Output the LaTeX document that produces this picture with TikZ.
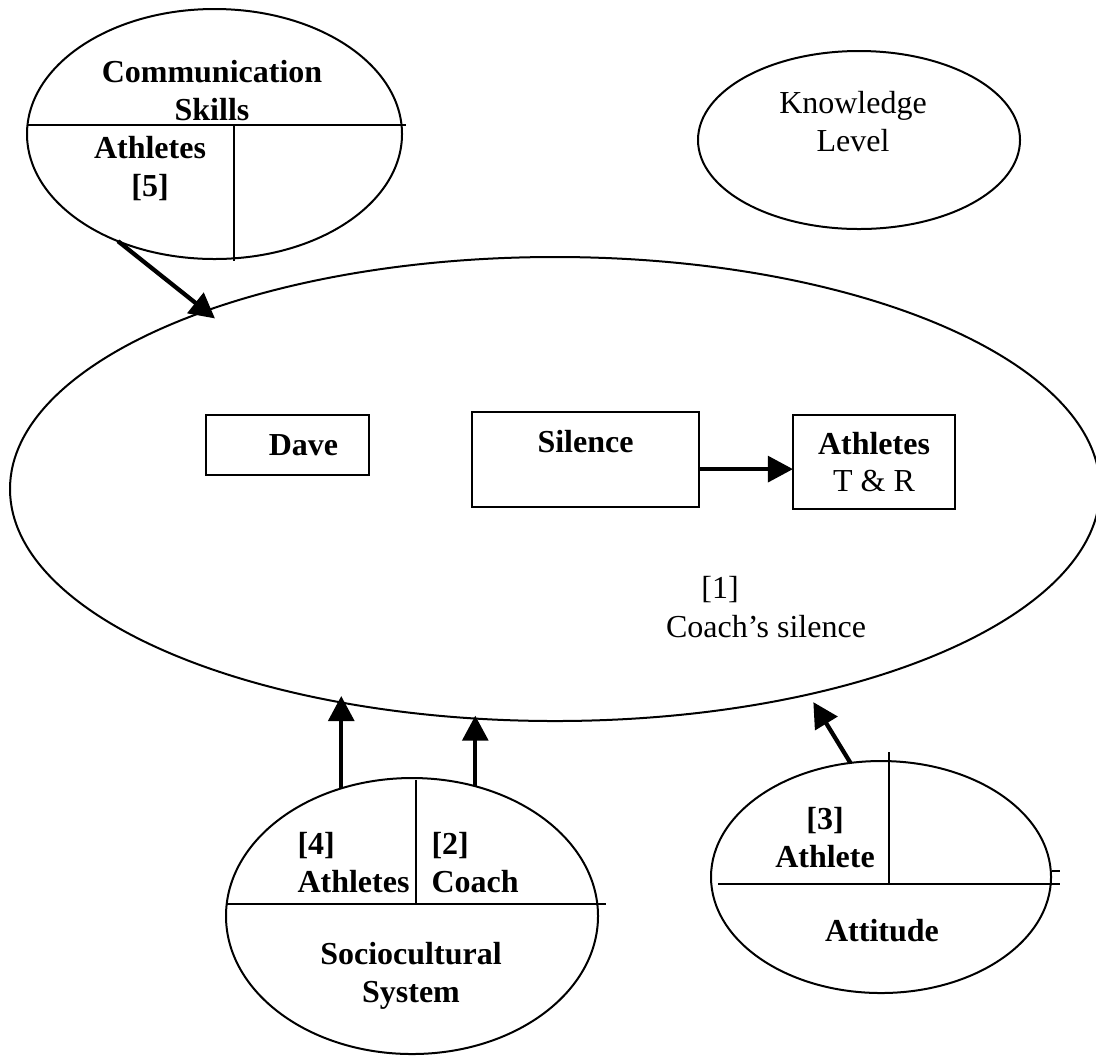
\documentclass[tikz,border=0pt]{standalone}
\usepackage{fontspec}
\setmainfont{Liberation Serif}
\usepackage{tikz}
\usetikzlibrary{shapes.geometric,arrows.meta}

\def\u{0.375pt} % one pixel of the layout

\tikzset{
    ell/.style={draw, ellipse, line width=0.75pt, inner sep=0pt, outer sep=0pt},
    box/.style={draw, rectangle, line width=0.9pt, inner sep=0pt, outer sep=0pt,
                align=center, font=\fontsize{12}{13.9}\selectfont\bfseries},
    bigarrow/.style={-{Triangle[length=9.4pt,width=9.6pt]}, line width=1.6pt},
    divider/.style={line width=0.75pt},
    txt/.style={inner sep=0pt, anchor=base, align=center, font=\fontsize{12}{13.9}\selectfont},
    btxt/.style={txt, font=\fontsize{12}{13.9}\selectfont\bfseries},
}

\begin{document}
\begin{tikzpicture}[x=0.375pt, y=-0.375pt]
    \useasboundingbox (0,0) rectangle (1096,1055);

    % Ellipses
    \node[ell, minimum width=1090*\u, minimum height=464*\u] (main) at (555,489) {};
    \node[ell, minimum width=375*\u, minimum height=250*\u] (comm) at (214.5,134) {};
    \node[ell, minimum width=322*\u, minimum height=178*\u] (know) at (859,140) {};
    \node[ell, minimum width=372*\u, minimum height=276*\u] (socio) at (412,916) {};
    \node[ell, minimum width=340*\u, minimum height=232*\u] (attit) at (881,877) {};

    % Dividing lines
    \draw[divider] (27,125) -- (406,125);
    \draw[divider] (234,125) -- (234,261);
    \draw[divider] (226,904) -- (606,904);
    \draw[divider] (416,780) -- (416,904);
    \draw[divider] (718,884) -- (1060,884);
    \draw[divider] (889,752) -- (889,884);
    \draw[divider] (1052,871) -- (1060,871);

    % Boxes inside the big ellipse
    \node[box, minimum width=163*\u, minimum height=60*\u] (dave) at (287.5,445) {\quad Dave};
    \node[box, minimum width=227*\u, minimum height=95*\u] (silence) at (585.5,459.5) {Silence\\\mbox{}};
    \node[box, minimum width=162*\u, minimum height=94*\u] (athtr) at (874,462) {Athletes\\\mdseries T \& R};

    % Labels (base = last line)
    \node[btxt] (commtxt) at (212,120) {Communication\\Skills};
    \node[btxt] (ath5) at (150,196) {Athletes\\{[5]}};
    \node[txt] (knowtxt) at (853,151) {Knowledge\\Level};
    \node[txt] (num1) at (720,598) {[1]};
    \node[txt] (coachtxt) at (766,637) {Coach’s silence};
    \node[btxt, anchor=base west, align=left] (ath4) at (297,892) {{[4]}\\Athletes};
    \node[btxt, anchor=base west, align=left] (coach2) at (431,892) {{[2]}\\Coach};
    \node[btxt] (sociotxt) at (411,1002) {Sociocultural\\System};
    \node[btxt] (ath3) at (825,867) {{[3]}\\Athlete};
    \node[btxt] (atttxt) at (882,941) {Attitude};

    % Arrows
    \draw[bigarrow, shorten >=-4.5pt] (comm.228.5) -- (main.153.3);
    \draw[bigarrow] ([yshift=-3.6pt]silence.east) -- ([yshift=-3.6pt]silence.east -| athtr.west);
    \draw[bigarrow, shorten >=-2pt] (socio.119.6) -- (socio.119.6 |- main.224.7);
    \draw[bigarrow, shorten >=-1pt] (socio.64.5) -- (socio.64.5 |- main.250.6);
    \draw[bigarrow, shorten >=3.4pt] (attit.105.5) -- (main.-39);
\end{tikzpicture}
\end{document}
